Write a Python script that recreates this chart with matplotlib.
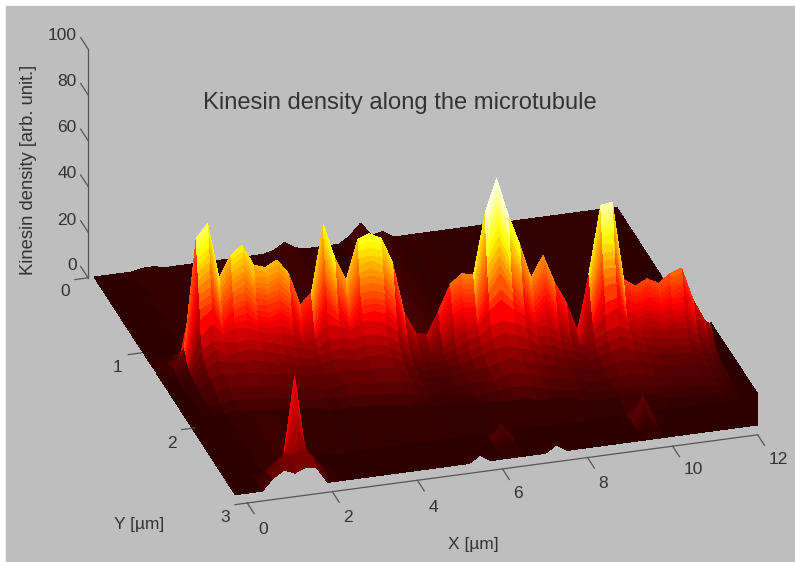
import matplotlib
matplotlib.use('Agg')
import matplotlib.pyplot as plt
from matplotlib.patches import Rectangle
import numpy as np

plt.rcParams['font.family'] = ['Liberation Sans', 'DejaVu Sans']

# positions along the microtubule [um]
x_um = [0, .12, .37, .62, .87, 1.12, 1.37, 1.62, 1.87, 2.12, 2.37, 2.62, 2.87, 3.12, 3.37, 3.62, 3.87,
        4.12, 4.37, 4.62, 4.87, 5.12, 5.37, 5.62, 5.87, 6.12, 6.37, 6.62, 6.87, 7.12, 7.37, 7.62, 7.87,
        8.12, 8.37, 8.62, 8.87, 9.12, 9.37, 9.62, 9.87, 10.12, 10.37, 10.62, 10.87, 11.12, 11.37, 11.62, 11.87, 12]

# y of the crest for every column [um]
crest_y = [1.26, 1.26, 1.28, 1.29, 1.31, 1.32, 1.33, 1.35, 1.36, 1.37, 1.39, 1.40, 1.42, 1.43, 1.44, 1.46, 1.47,
           1.48, 1.50, 1.51, 1.53, 1.54, 1.55, 1.57, 1.58, 1.59, 1.61, 1.62, 1.64, 1.65, 1.66, 1.68, 1.69,
           1.70, 1.72, 1.73, 1.75, 1.76, 1.77, 1.79, 1.80, 1.81, 1.83, 1.84, 1.86, 1.87, 1.88, 1.90, 1.91, 1.92]

# rows behind/in front of the crest, then rows at fixed y near the front edge
crest_offset = [-.2, -.08, 0, .007, .015, .022, .03, .037, .045, .052, .06, .07, .08, .09, .10, .13, .17, .22, .30, .42, .52, .60]
front_y = [2.55, 2.65, 2.665, 2.68, 2.70, 2.74, 2.78, 2.88]

density = [
    [0,0,0,0,0,1,1,0,0,0,0,0,0,0,0,0,0,1,4,1,0,0,0,0,3,8,2,3,0,0,0,0,0,0,0,0,0,1,0,0,0,0,0,0,0,0,0,0,0,0],
    [0,0,0,0,1,1,1,1,1,1,1,1,1,0,1,1,1,1,1,1,1,1,0,0,0,0,1,1,1,1,2,1,1,1,1,1,0,0,1,1,1,1,1,1,1,1,1,0,0,0],
    [0,1,1,4,29,32,20,25,27,23,22,24,21,14,16,31,24,19,28,29,28,22,11,7,6,11,17,19,19,32,40,32,25,18,23,17,12,6,18,33,34,17,15,17,16,18,19,12,7,6],
    [.5,1,2,10,58,64,40,50,54,45,44,47,41,27,32,62,47,37,55,57,55,44,22,13,12,22,34,38,38,64,79,63,50,35,45,33,24,11,36,66,67,33,30,33,31,35,37,23,14,12],
    [0,1,2,10,55,61,38,48,51,43,42,45,39,26,30,59,45,35,52,54,52,42,21,12,11,21,32,36,36,61,75,60,48,33,43,31,23,10,34,63,64,31,29,31,29,33,35,22,13,11],
    [0,1,2,9,52,58,36,45,49,40,40,42,37,24,29,56,42,33,50,51,50,40,20,12,11,20,31,34,34,58,71,57,45,32,40,30,22,10,32,59,60,30,27,30,28,31,33,21,13,11],
    [0,1,2,9,49,54,34,43,46,38,37,40,35,23,27,53,40,31,47,48,47,37,19,11,10,19,29,32,32,54,67,54,43,30,38,28,20,9,31,56,57,28,26,28,26,30,31,20,12,10],
    [0,1,2,8,46,51,32,40,43,36,35,38,33,22,26,50,38,30,44,46,44,35,18,10,10,18,27,30,30,51,63,50,40,28,36,26,19,9,29,53,54,26,24,26,25,28,30,18,11,10],
    [0,1,2,8,44,48,30,38,41,34,33,35,31,20,24,47,35,28,41,43,41,33,17,10,9,17,26,29,29,48,59,47,38,26,34,25,18,8,27,50,50,25,23,25,23,26,28,17,11,9],
    [0,1,1,7,41,45,28,35,38,32,31,33,29,19,22,43,33,26,39,40,39,31,15,9,8,15,24,27,27,45,55,44,35,25,32,23,17,8,25,46,47,23,21,23,22,25,26,16,10,8],
    [0,1,1,6,38,42,26,33,35,29,29,31,27,18,21,40,31,24,36,37,36,29,14,8,8,14,22,25,25,42,51,41,33,23,29,21,16,7,23,43,44,21,20,21,20,23,24,15,9,8],
    [0,1,1,6,35,38,24,30,32,27,26,28,25,16,19,37,28,22,33,34,33,26,13,8,7,13,20,23,23,38,47,38,30,21,27,20,14,7,22,40,40,20,18,20,19,21,22,14,8,7],
    [0,1,1,5,32,35,22,28,30,25,24,26,23,15,18,34,26,20,30,31,30,24,12,7,7,12,19,21,21,35,43,35,28,19,25,18,13,6,20,36,37,18,17,18,17,19,20,13,8,7],
    [0,1,1,5,29,32,20,25,27,23,22,24,21,14,16,31,24,19,28,29,28,22,11,7,6,11,17,19,19,32,40,32,25,18,23,17,12,6,18,33,34,17,15,17,16,18,19,12,7,6],
    [0,0,1,4,25,29,20,23,24,21,20,21,19,14,15,26,22,19,25,26,25,20,11,8,7,10,15,17,19,28,33,28,24,18,20,15,12,8,16,26,28,18,15,15,14,16,16,11,7,5],
    [0,0,1,4,18,23,18,21,21,19,18,18,17,13,15,21,20,18,22,22,21,17,10,8,7,9,13,16,18,25,29,25,22,17,17,14,11,8,14,21,24,17,14,14,13,14,14,10,7,5],
    [0,0,0,3,13,17,16,16,17,16,15,14,13,12,12,16,16,15,17,17,16,13,8,7,7,7,10,13,15,19,21,20,18,14,14,11,10,9,11,15,17,15,12,11,11,11,11,8,6,4],
    [0,0,0,3,10,14,12,13,14,13,12,11,10,9,10,12,13,12,14,14,13,10,7,6,5,6,8,10,12,15,17,16,14,11,11,9,8,7,9,12,14,12,10,9,8,9,9,6,5,3],
    [0,0,0,2,8,11,10,10,11,10,9,9,8,7,8,10,10,9,11,11,10,8,5,4,4,5,6,8,10,12,13,12,11,9,8,7,6,5,7,9,11,9,8,7,7,7,7,5,4,2],
    [0,0,0,2,6,8,7,8,8,7,7,7,6,6,6,7,8,7,8,8,8,6,4,3,3,4,5,6,7,9,10,9,8,7,6,5,5,4,5,7,8,7,6,5,5,5,5,4,3,2],
    [0,0,0,1,4,6,6,6,6,6,5,5,5,4,4,6,6,5,6,6,6,5,3,2,2,3,4,5,5,7,8,7,6,5,5,4,3,3,4,5,6,5,4,4,4,4,4,3,2,1],
    [0,0,0,1,3,4,4,4,4,4,4,3,3,3,3,4,4,4,4,4,4,3,2,2,2,2,2,3,4,5,5,5,4,3,3,3,2,2,3,3,4,3,3,3,2,3,3,2,1,1],
    [0,0,0,0,1,2,2,2,2,2,2,2,2,1,1,2,2,2,2,2,2,2,1,1,1,1,1,2,2,2,3,2,2,2,2,1,1,1,1,2,2,2,1,1,1,1,1,1,1,0],
    [0,0,0,0,0,0,0,2,0,0,0,0,0,0,0,0,0,0,0,0,0,0,0,0,0,0,0,0,0,0,0,0,0,0,0,0,0,0,0,4,0,0,0,0,0,0,0,0,0,0],
    [0,0,0,0,0,3,6,40,6,0,0,0,0,0,0,0,0,0,0,0,0,0,0,0,0,1,7,1,0,0,0,0,0,0,0,0,0,0,1,11,1,0,0,0,0,0,0,0,0,0],
    [0,0,0,0,0,3,7,33,6,0,0,0,0,0,0,0,0,0,0,0,0,0,0,0,0,1,6,1,0,0,0,0,0,0,0,0,0,0,1,9,1,0,0,0,0,0,0,0,0,0],
    [0,0,0,0,1,4,8,26,6,1,0,0,0,0,0,0,0,0,0,0,0,0,0,0,0,0,5,0,0,0,0,0,0,0,0,0,0,0,0,8,0,0,0,0,0,0,0,0,0,0],
    [0,0,0,0,2,5,9,20,7,1,0,0,0,0,0,0,0,0,0,0,0,0,0,0,0,0,4,0,0,0,0,0,0,0,0,0,0,0,0,6,0,0,0,0,0,0,0,0,0,0],
    [0,0,0,0,3,7,10,14,8,2,0,0,0,0,0,0,0,0,0,0,0,0,0,0,0,0,3,0,0,0,0,0,0,0,0,0,0,0,0,4,0,0,0,0,0,0,0,0,0,0],
    [0,0,0,0,4,8,10,12,9,3,0,0,0,0,0,0,0,0,0,0,0,0,0,0,0,0,2,0,0,0,0,0,0,0,0,0,0,0,0,2,0,0,0,0,0,0,0,0,0,0],
    [0,0,0,0,5,8,6,8,7,0,0,0,0,0,0,0,0,0,0,0,0,0,0,3,0,0,0,0,0,0,3,0,0,0,0,0,0,0,0,0,0,0,0,0,0,0,0,0,0,0],
]

# dark step on the right hand edge
step_y = [1.92, 2.88]
step_z = [13, 13.5]

xticks = [0, 2, 4, 6, 8, 10, 12]
yticks = [0, 1, 2, 3]
zticks = [0, 20, 40, 60, 80, 100]

xlabel_pos = [[263, 530], [348, 517], [433, 507], [518, 494], [603, 483], [693, 470], [778, 460]]
ylabel_pos = [[65, 292], [118, 368], [172, 443], [225, 518]]
zlabel_pos = [[72, 266], [67, 220], [67, 174], [67, 128], [67, 82], [62, 35]]

W, H = 795, 562
S = 773

fig = plt.figure(figsize=(W/100, H/100), dpi=100, facecolor='white')
fig.add_artist(Rectangle((6/W, 0), 1, 1-6/H, transform=fig.transFigure, color='#bebebe', zorder=-5))

ax = fig.add_axes([32/W, -76/H, S/W, S/H], projection='3d', proj_type='ortho', computed_zorder=False)
ax.patch.set_alpha(0)
ax.set_axis_off()
ax.view_init(elev=27, azim=-106.4)
ax.set_box_aspect((545, 521, 257))
ax.set_xlim(0, 12)
ax.set_ylim(3, 0)
ax.set_zlim(0, 100)

x = np.array(x_um)
crest = np.array(crest_y)
Y = np.vstack([np.zeros(len(x))] + [crest + o for o in crest_offset] + [np.full(len(x), v) for v in front_y])
X = np.tile(x, (Y.shape[0], 1))
Z = np.array(density, dtype=float)

# one strip per row, back to front, so tall back faces don't paint over the front ones
for i in range(Z.shape[0] - 1):
    ax.plot_surface(X[i:i+2], Y[i:i+2], Z[i:i+2], cmap='hot', vmin=-4, vmax=72, rstride=1, cstride=1,
                    linewidth=0, antialiased=False, shade=False, zorder=i)

wy, wz = np.meshgrid(step_y, [0, 1])
ax.plot_surface(np.full((2, 2), 12.0), wy, wz * np.array(step_z), color='#2d0000', shade=False,
                linewidth=0, antialiased=False, zorder=-1)

# axes lines and ticks
line = dict(color='#555555', lw=0.9, zorder=60)
ax.plot([.14, 11.86], [3, 3], [0, 0], **line)
ax.plot([-.14, -.14], [0, 0], [0, 100], **line)
for t in xticks:
    px = .14 + t*(11.72/12)
    ax.plot([px, px], [3, 3.14], [0, 0], **line)
for t in yticks:
    ax.plot([-.14 + t*.1, -.44 + t*.1], [t, t], [0, 0], **line)
for t in zticks:
    ax.plot([-.14, -.14], [0, -.15], [t, t], **line)

txt = dict(color='#333333', ha='center', va='center')
for t, p in zip(xticks, xlabel_pos):
    fig.text(p[0]/W, 1-p[1]/H, str(t), fontsize=12.5, **txt)
for t, p in zip(yticks, ylabel_pos):
    fig.text(p[0]/W, 1-p[1]/H, str(t), fontsize=12.5, **txt)
for t, p in zip(zticks, zlabel_pos):
    fig.text(p[0]/W, 1-p[1]/H, str(t), fontsize=12.5, **txt)

fig.text(400/W, 1-103/H, 'Kinesin density along the microtubule', fontsize=17.1, **txt)
fig.text(29/W, 1-170/H, 'Kinesin density [arb. unit.]', fontsize=13.2, rotation=90, **txt)
fig.text(473/W, 1-545/H, 'X [\u00b5m]', fontsize=12.5, **txt)
fig.text(139/W, 1-525/H, 'Y [\u00b5m]', fontsize=12.5, **txt)

fig.savefig('out.png', dpi=100, facecolor=fig.get_facecolor())
